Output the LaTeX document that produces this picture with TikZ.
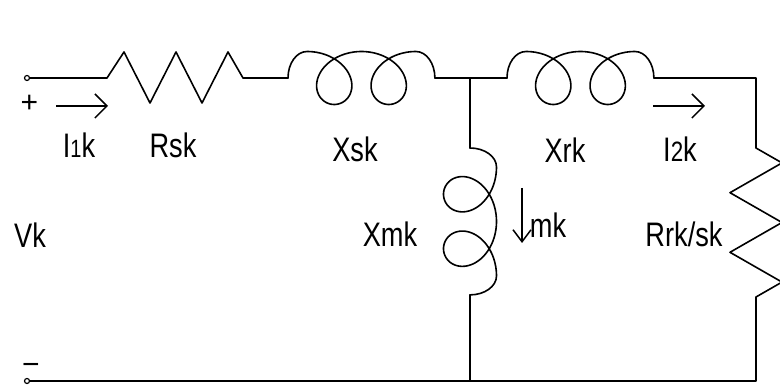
\documentclass[tikz,border=0pt]{standalone}
\usepackage{fontspec}
\setmainfont{Liberation Sans}
\newfontfamily\labfont[FakeStretch=0.8]{Liberation Sans}
\usetikzlibrary{arrows.meta}
\begin{document}
\begin{tikzpicture}[x=1pt,y=1pt,
  wire/.style={line width=1.6pt, line cap=round, line join=round},
  cur/.style={line width=1.5pt, -{Straight Barb[length=12pt,width=24pt,line width=1.5pt]}},
  curd/.style={line width=1.5pt, -{Straight Barb[length=12pt,width=18pt,line width=1.5pt]}},
  lab/.style={anchor=base, inner sep=0pt, font=\labfont\fontsize{34}{40}\selectfont},
  sgn/.style={inner sep=0pt, font=\fontsize{30}{34}\selectfont},
  term/.style={circle, draw, line width=1.2pt, fill=white, minimum size=5pt, inner sep=0pt},
  mycoil/.pic={
    \draw[wire] (0,0) arc[start angle=180,end angle=90,x radius=19,y radius=26.5]
      -- plot[domain=0:12.566,samples=160,smooth,variable=\t]
         ({19+8.67*\t+30*sin(\t r)},{26.5*cos(\t r)})
      arc[start angle=90,end angle=0,x radius=19,y radius=26.5];
  }]
\useasboundingbox (0,0) rectangle (780,385);
% key points
\coordinate (tA) at (27,307);
\coordinate (tB) at (27,4);
\coordinate (r1s) at (107,307);
\coordinate (r1e) at (243,307);
\coordinate (x1s) at (288,307);
\coordinate (x1e) at (434.9,307);
\coordinate (j) at (470,307);
\coordinate (x2s) at (507,307);
\coordinate (x2e) at (653.9,307);
\coordinate (tr) at (756,307);
\coordinate (r2s) at (756,237);
\coordinate (r2e) at (756,88);
\coordinate (br) at (756,4);
\coordinate (jb) at (470,4);
\coordinate (m1) at (470,237);
\coordinate (m2) at (470,90.1);
% top series branch
\draw[wire] (tA) -- (r1s) -- ++(17,26) -- ++(26,-51) -- ++(26,51) -- ++(26,-51) -- ++(26,51) -- (r1e) -- (x1s);
\pic at (x1s) {mycoil};
\draw[wire] (x1e) -- (j) -- (x2s);
\pic at (x2s) {mycoil};
\draw[wire] (x2e) -- (tr) -- (r2s) -- ++(26,-14.9) -- ++(-52,-29.8) -- ++(52,-29.8)
  -- ++(-52,-29.8) -- ++(52,-29.8) -- (r2e) -- (br) -- (jb) -- (tB);
% magnetizing branch
\draw[wire] (j) -- (m1);
\pic[rotate=-90] at (m1) {mycoil};
\draw[wire] (m2) -- (jb);
% terminals
\node[term] (TA) at (tA) {};
\node[term] (TB) at (tB) {};
% current arrows
\coordinate (a1s) at (56,279);
\coordinate (a1e) at (108,279);
\draw[cur] (a1s) -- (a1e);
\coordinate (a2s) at (653,279);
\coordinate (a2e) at (705,279);
\draw[cur] (a2s) -- (a2e);
\coordinate (a3s) at (522,197);
\coordinate (a3e) at (522,142);
\draw[curd] (a3s) -- (a3e);
% labels
\node[sgn] (plus) at (29.5,281) {+};
\node[sgn] (minus) at (31,16) {−};
\node[lab] (I1) at (79,227) {I{\fontsize{25}{28}\selectfont 1}k};
\node[lab] (Rs) at (173,227) {Rsk};
\node[lab] (Xs) at (355,223) {Xsk};
\node[lab] (Xr) at (565,222) {Xrk};
\node[lab] (I2) at (680,223) {I{\fontsize{28}{30}\selectfont 2}k};
\node[lab] (Vk) at (30,137) {Vk};
\node[lab] (Xm) at (390,138) {Xmk};
\node[lab] (Im) at (548,147) {mk};
\node[lab] (Rr) at (684,138) {Rrk/sk};
\end{tikzpicture}
\end{document}
